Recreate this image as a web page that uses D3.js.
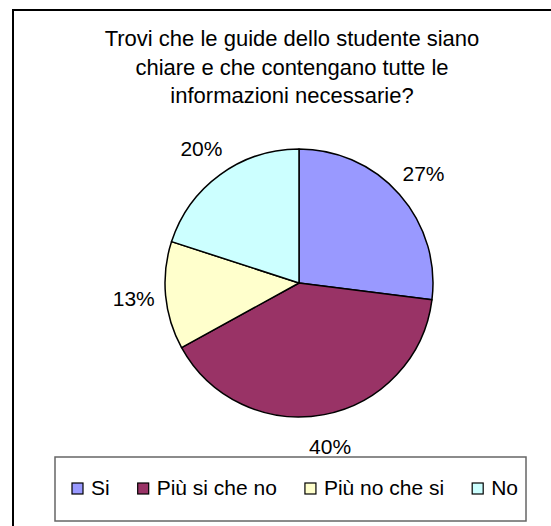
<!DOCTYPE html>
<html>
<head>
<meta charset="utf-8">
<script src="https://cdnjs.cloudflare.com/ajax/libs/d3/7.8.5/d3.min.js"></script>
<style>
	body{margin:0;background:#fff;}
	text{font-family:"Liberation Sans",Arial,sans-serif;fill:#000;}
</style>
</head>
<body>
<div id="pie-div"></div>
<script>
var titleLines=["Trovi che le guide dello studente siano","chiare e che contengano tutte le","informazioni necessarie?"];
var categories=["Si","Più si che no","Più no che si","No"];
var values=[27,40,13,20];
var colors=["#9999FF","#993366","#FFFFCC","#CCFFFF"];

var width=551, height=526;
var center={x:299, y:283};
var radius=134;

var svg=d3.select("#pie-div")
	.append("svg")
	.attr("width", width)
	.attr("height", height);

// cornice esterna (continua oltre il bordo destro e inferiore)
svg.append("rect")
	.attr("x",13).attr("y",10)
	.attr("width",700).attr("height",700)
	.attr("fill","none")
	.attr("stroke","#000")
	.attr("stroke-width",2);

// titolo
svg.append("g").attr("class","title")
	.selectAll("text")
	.data(titleLines)
	.enter().append("text")
	.attr("x",292)
	.attr("y",function(d,i){ return 46+28.5*i; })
	.attr("text-anchor","middle")
	.style("font-size","22px")
	.text(function(d){ return d; });

var pie=d3.pie().sort(null).value(function(d){ return d; });
var arcs=pie(values);
var arc=d3.arc().innerRadius(0).outerRadius(radius);
var labelArc=d3.arc().innerRadius(166).outerRadius(166);

var pieg=svg.append("g")
	.attr("transform","translate("+center.x+","+center.y+")");

pieg.selectAll("path")
	.data(arcs)
	.enter().append("path")
	.attr("d",arc)
	.attr("fill",function(d,i){ return colors[i]; })
	.attr("stroke","#000")
	.attr("stroke-width",1.5)
	.attr("stroke-linejoin","round");

// etichette percentuali
var total=d3.sum(values);
pieg.selectAll("text")
	.data(arcs)
	.enter().append("text")
	.attr("transform",function(d){ var c=labelArc.centroid(d); return "translate("+c[0]+","+c[1]+")"; })
	.attr("text-anchor","middle")
	.attr("dy","0.36em")
	.style("font-size","21px")
	.text(function(d){ return Math.round(d.value/total*100)+"%"; });

// legenda
var legendBox=svg.append("rect")
	.attr("x",55).attr("y",457)
	.attr("width",471).attr("height",64)
	.attr("fill","#fff")
	.attr("stroke","#666")
	.attr("stroke-width",1.5);

var legend=svg.append("g").attr("class","legend");
var xPos=72;
categories.forEach(function(c,i){
	var item=legend.append("g");
	item.append("rect")
		.attr("x",xPos).attr("y",483)
		.attr("width",11).attr("height",11)
		.attr("fill",colors[i])
		.attr("stroke","#000")
		.attr("stroke-width",1.2);
	var t=item.append("text")
		.attr("x",xPos+19)
		.attr("y",495)
		.style("font-size","21px")
		.text(c);
	xPos=xPos+19+t.node().getComputedTextLength()+28;
});
</script>
</body>
</html>
